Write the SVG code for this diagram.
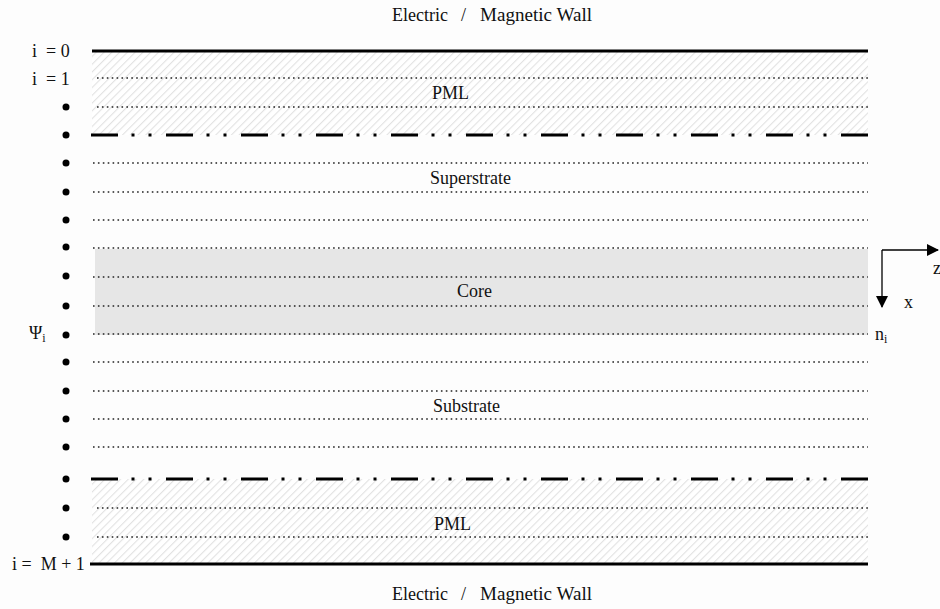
<svg xmlns="http://www.w3.org/2000/svg" width="940" height="609" viewBox="0 0 940 609">
<defs>
<pattern id="hatch" patternUnits="userSpaceOnUse" width="5.5" height="5.5" patternTransform="rotate(45)">
<rect width="5.5" height="5.5" fill="#ffffff"/>
<line x1="0" y1="0" x2="0" y2="5.5" stroke="#e2e2e2" stroke-width="2.2"/>
</pattern>
<marker id="arr" markerWidth="12" markerHeight="12" refX="11" refY="6" orient="auto" markerUnits="userSpaceOnUse">
<path d="M0,0 L12,6 L0,12 Z" fill="#000"/>
</marker>
<style>
.t{font-family:"Liberation Serif","Times New Roman",serif;font-size:18px;fill:#111}
.dot{stroke:#222;stroke-width:1.6;stroke-dasharray:1.6 3.3;fill:none}
.wall{stroke:#000;stroke-width:3.2;fill:none}
.dd{stroke:#000;stroke-width:3.2;fill:none;stroke-dasharray:27 13.5 3 14 3 14.5}
.pt{fill:#000}
</style>
</defs>
<rect width="940" height="609" fill="#fdfdfd"/>

<g id="regions">
<rect id="pml-top" x="92" y="51" width="776" height="84" fill="url(#hatch)"/>
<rect id="pml-bottom" x="92" y="479" width="776" height="85" fill="url(#hatch)"/>
<rect id="core" x="95" y="249" width="773" height="86" fill="#e6e6e6"/>
</g>

<g id="grid-lines">
<line class="wall" x1="92" y1="51" x2="868" y2="51"/>
<line class="dot" x1="97" y1="78" x2="868" y2="78"/>
<line class="dot" x1="97" y1="107" x2="868" y2="107"/>
<line class="dd" x1="91" y1="135" x2="868" y2="135"/>
<line class="dot" x1="93" y1="163" x2="868" y2="163"/>
<line class="dot" x1="93" y1="192" x2="868" y2="192"/>
<line class="dot" x1="93" y1="220" x2="868" y2="220"/>
<line class="dot" x1="93" y1="248" x2="868" y2="248"/>
<line class="dot" x1="93" y1="277" x2="868" y2="277"/>
<line class="dot" x1="93" y1="306" x2="868" y2="306"/>
<line class="dot" x1="93" y1="334" x2="868" y2="334"/>
<line class="dot" x1="93" y1="362" x2="868" y2="362"/>
<line class="dot" x1="93" y1="391" x2="868" y2="391"/>
<line class="dot" x1="93" y1="419" x2="868" y2="419"/>
<line class="dot" x1="93" y1="447" x2="868" y2="447"/>
<line class="dd" x1="91" y1="479" x2="868" y2="479"/>
<line class="dot" x1="97" y1="508" x2="868" y2="508"/>
<line class="dot" x1="97" y1="537" x2="868" y2="537"/>
<line class="wall" x1="90" y1="564" x2="868" y2="564"/>
</g>

<g id="grid-points">
<circle class="pt" cx="66" cy="107" r="3.5"/>
<circle class="pt" cx="66" cy="135" r="3.5"/>
<circle class="pt" cx="66" cy="163" r="3.5"/>
<circle class="pt" cx="66" cy="192" r="3.5"/>
<circle class="pt" cx="66" cy="220" r="3.5"/>
<circle class="pt" cx="66" cy="247" r="3.5"/>
<circle class="pt" cx="66" cy="276" r="3.5"/>
<circle class="pt" cx="66" cy="306" r="3.5"/>
<circle class="pt" cx="66" cy="335" r="3.5"/>
<circle class="pt" cx="66" cy="362" r="3.5"/>
<circle class="pt" cx="66" cy="391" r="3.5"/>
<circle class="pt" cx="66" cy="419" r="3.5"/>
<circle class="pt" cx="66" cy="447" r="3.5"/>
<circle class="pt" cx="66" cy="479" r="3.5"/>
<circle class="pt" cx="66" cy="508" r="3.5"/>
<circle class="pt" cx="66" cy="537" r="3.5"/>
</g>

<g id="labels">
<text class="t" x="392" y="21" font-size="18.5">Electric</text>
<text class="t" x="461" y="21">/</text>
<text class="t" x="480" y="21" textLength="112" lengthAdjust="spacingAndGlyphs">Magnetic Wall</text>
<text class="t" x="392" y="600" font-size="18.5">Electric</text>
<text class="t" x="461" y="600">/</text>
<text class="t" x="480" y="600" textLength="112" lengthAdjust="spacingAndGlyphs">Magnetic Wall</text>
<text class="t" x="432" y="99">PML</text>
<text class="t" x="430" y="184">Superstrate</text>
<text class="t" x="457" y="297">Core</text>
<text class="t" x="433" y="412">Substrate</text>
<text class="t" x="434" y="530">PML</text>
<text class="t" x="32" y="57" xml:space="preserve" font-size="19">i  = 0</text>
<text class="t" x="32" y="85" xml:space="preserve" font-size="19">i  = 1</text>
<text class="t" x="29" y="339" font-size="19">Ψ<tspan font-size="12" dy="3">i</tspan></text>
<text class="t" x="12" y="570" xml:space="preserve" font-size="19">i =  M + 1</text>
<text class="t" x="875" y="340">n<tspan font-size="12" dy="3">i</tspan></text>
</g>

<g id="axes">
<line x1="882" y1="250" x2="938" y2="250" stroke="#000" stroke-width="1.3" marker-end="url(#arr)"/>
<line x1="882" y1="250" x2="882" y2="307" stroke="#000" stroke-width="1.3" marker-end="url(#arr)"/>
<text class="t" x="933" y="274">z</text>
<text class="t" x="904" y="308">x</text>
</g>
</svg>
